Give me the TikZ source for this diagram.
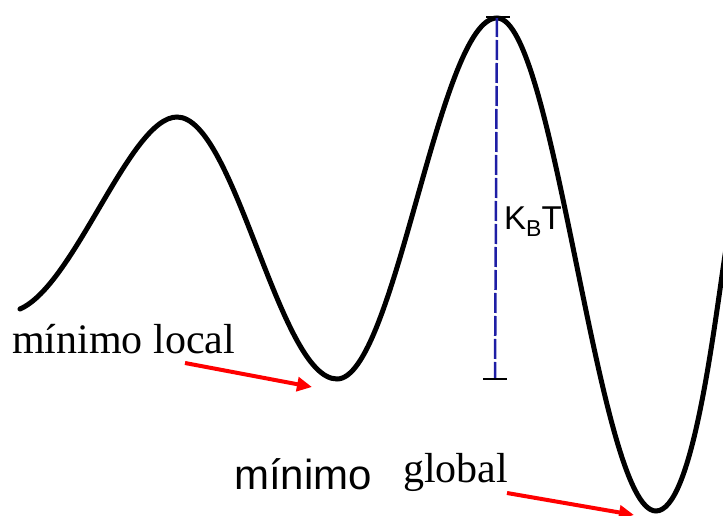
\documentclass[tikz,border=0pt]{standalone}
\usepackage{fontspec}
\setmainfont{Liberation Serif}
\newfontfamily\arialf{Liberation Sans}
\usetikzlibrary{arrows.meta}
\definecolor{dashblue}{RGB}{30,30,165}
\begin{document}
\begin{tikzpicture}[x=1pt,y=-1pt,
  curveline/.style={line width=5pt,line cap=round},
  redarrow/.style={red,line width=4pt,-{Triangle[length=15pt,width=14pt]}},
  barline/.style={line width=2pt,black},
  kbline/.style={dashblue,line width=2.5pt,dash pattern=on 20pt off 3pt},
  serif42/.style={inner sep=0pt,anchor=base west,font=\fontsize{42}{50}\selectfont},
  sans42/.style={inner sep=0pt,anchor=base west,font=\arialf\fontsize{42}{50}\selectfont},
  sans33/.style={inner sep=0pt,anchor=base west,font=\arialf\fontsize{33}{39}\selectfont}]
\useasboundingbox (0,0) rectangle (723,516);
\begin{scope}
\clip (0,0) rectangle (723,516);
\draw[curveline] (20,309) .. controls (75,285) and (130,117) .. (177,117)
  .. controls (235,117) and (279,379) .. (337,379)
  .. controls (395,379) and (439,18) .. (497,18)
  .. controls (555,18) and (598,511) .. (656,511)
  .. controls (692,511) and (713,335) .. (725,255)
  -- (732,210);
% K_B T marker
\coordinate (ktop) at (497,17);
\coordinate (kbot) at (495,379);
\draw[kbline] (ktop) -- (kbot);
\coordinate (tl) at (486,17); \coordinate (tr) at (510,17);
\coordinate (bl) at (483,379); \coordinate (br) at (507,379);
\draw[barline] (tl) -- (tr);
\draw[barline] (bl) -- (br);
% arrows
\coordinate (a1s) at (185,363); \coordinate (a1e) at (312,387);
\coordinate (a2s) at (507,493); \coordinate (a2e) at (634,515);
\draw[redarrow] (a1s) -- (a1e);
\draw[redarrow] (a2s) -- (a2e);
\end{scope}
\node[sans33] (kbt) at (504,229) {K\raisebox{-0.22em}{\fontsize{23}{27}\selectfont B}T};
\node[serif42] (local) at (12,353) {mínimo local};
\node[sans42] (minimo) at (234,489) {mínimo};
\node[serif42] (global) at (403,482) {global};
\end{tikzpicture}
\end{document}
